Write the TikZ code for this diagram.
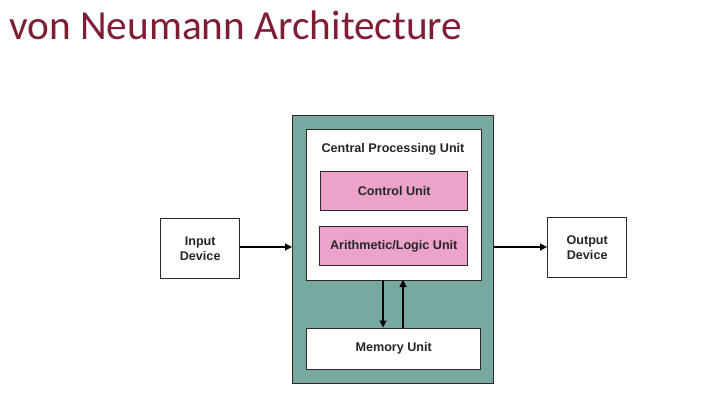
\documentclass[tikz,border=0pt]{standalone}
\usepackage{fontspec}
\setmainfont{Liberation Sans}
\newfontfamily\titlefont{Carlito}
\usetikzlibrary{arrows.meta}
\definecolor{titlered}{HTML}{7F1D35}
\definecolor{tealbg}{HTML}{77A9A1}
\definecolor{pinkbg}{HTML}{EBA3C9}
\definecolor{edge}{HTML}{2A2A2A}
\tikzset{
  box/.style={draw=edge, line width=1.4pt, inner sep=0pt},
  lbl/.style={font=\fontsize{12.6}{14.5}\selectfont\bfseries, text=black!85, align=center},
  conn/.style={draw=black, line width=1.2pt, -{Triangle[length=7pt,width=7pt]}},
}
\begin{document}
\begin{tikzpicture}[x=1pt,y=-1pt]
\useasboundingbox (0,0) rectangle (707,405);
\node[anchor=base west, inner sep=0pt, text=titlered, font=\titlefont\fontsize{41.3}{46}\selectfont] (title) at (9,39) {von Neumann Architecture};
% outer teal
\node[box, fill=tealbg, minimum width=201pt, minimum height=268pt, anchor=north west] (outer) at (292,115) {};
% CPU
\node[box, fill=white, minimum width=175pt, minimum height=151pt, anchor=north west] (cpu) at (305.5,129) {};
\node[lbl] (cputxt) at (393,149) {Central Processing Unit};
\node[box, fill=pinkbg, minimum width=147pt, minimum height=39pt, anchor=north west] (cu) at (320,171) {};
\node[lbl] at (cu.center) {Control Unit};
\node[box, fill=pinkbg, minimum width=148pt, minimum height=39pt, anchor=north west] (alu) at (319,226) {};
\node[lbl] at (alu.center) {Arithmetic/Logic Unit};
% memory
\node[box, fill=white, minimum width=174pt, minimum height=41pt, anchor=north west] (mem) at (306,327.5) {};
\node[lbl] at (mem.center) {Memory Unit};
% input/output
\node[box, fill=white, minimum width=79pt, minimum height=60pt, anchor=north west] (in) at (160,218) {};
\node[lbl] at (in.center) {Input\\Device};
\node[box, fill=white, minimum width=79pt, minimum height=60pt, anchor=north west] (out) at (547,217) {};
\node[lbl] at (out.center) {Output\\Device};
% connectors
\coordinate (cpuD) at (383,280);
\coordinate (memD) at (383,327.5);
\coordinate (cpuU) at (403,280);
\coordinate (memU) at (403,327.5);
\draw[conn] (in.east |- 0,247) -- (outer.west |- 0,247);
\draw[conn] (outer.east |- 0,247) -- (out.west |- 0,247);
\draw[conn] (cpuD) -- (memD);
\draw[conn] (memU) -- (cpuU);
\end{tikzpicture}
\end{document}
